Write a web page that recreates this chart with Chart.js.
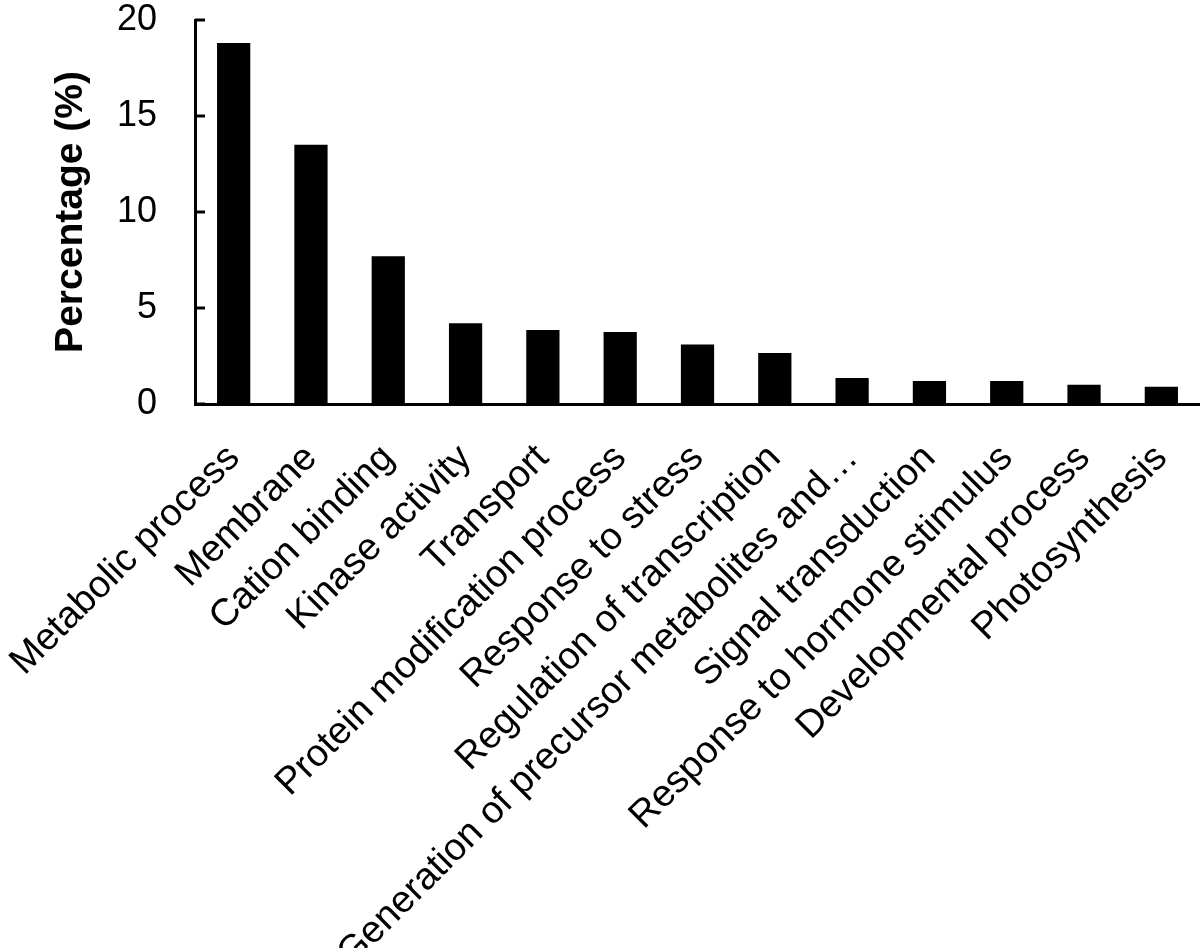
<!DOCTYPE html>
<html>
<head>
<meta charset="utf-8">
<script src="https://cdn.jsdelivr.net/npm/chart.js@4.4.0/dist/chart.umd.min.js"></script>
<style>
  body { margin: 0; background: #fff; }
  #goChart { display: block; }
</style>
</head>
<body>
<canvas id="goChart" width="1200" height="948"></canvas>
<script>
const categories = [
    'Metabolic process', 'Membrane', 'Cation binding', 'Kinase activity', 'Transport',
    'Protein modification process', 'Response to stress', 'Regulation of transcription',
    'Generation of precursor metabolites and\u2026', 'Signal transduction',
    'Response to hormone stimulus', 'Developmental process', 'Photosynthesis'
];
const percentages = [18.8, 13.5, 7.7, 4.2, 3.85, 3.75, 3.1, 2.65, 1.35, 1.2, 1.2, 1.0, 0.9];
const yTicks = [0, 5, 10, 15, 20];

const FONT = "'Liberation Sans', Arial, Helvetica, sans-serif";

// ticks on the y axis point into the plot, so draw them after the chart
const innerTicks = {
    id: 'innerTicks',
    afterDraw(chart) {
        const ctx = chart.ctx;
        const y = chart.scales.y;
        const left = chart.chartArea.left;
        ctx.save();
        ctx.strokeStyle = '#000';
        ctx.lineWidth = 3;
        yTicks.forEach(v => {
            const py = y.getPixelForValue(v);
            ctx.beginPath();
            ctx.moveTo(left, py);
            ctx.lineTo(left + 10, py);
            ctx.stroke();
        });
        ctx.restore();
    }
};

function renderChart() {
    const ctx = document.getElementById('goChart').getContext('2d');
    new Chart(ctx, {
        type: 'bar',
        data: {
            labels: categories,
            datasets: [{
                data: percentages,
                backgroundColor: '#000',
                borderWidth: 0,
                barPercentage: 0.43,
                categoryPercentage: 1
            }]
        },
        options: {
            responsive: false,
            animation: false,
            layout: { padding: { top: 20, right: 0, left: 0, bottom: 0 } },
            plugins: {
                legend: { display: false },
                tooltip: { enabled: false }
            },
            scales: {
                x: {
                    grid: { display: false, drawTicks: false },
                    border: { display: true, color: '#000', width: 3 },
                    ticks: {
                        color: '#000',
                        font: { family: FONT, size: 38 },
                        minRotation: 45,
                        maxRotation: 45,
                        autoSkip: false,
                        padding: 32
                    },
                    afterFit(scale) {
                        scale.height = 544;
                        scale.paddingLeft = 0;
                        scale.paddingRight = 0;
                    }
                },
                y: {
                    min: 0,
                    max: 20,
                    grid: { display: false, drawTicks: false },
                    border: { display: true, color: '#000', width: 3 },
                    ticks: {
                        stepSize: 5,
                        color: '#000',
                        font: { family: FONT, size: 36 },
                        padding: 38
                    },
                    title: {
                        display: true,
                        text: 'Percentage (%)',
                        color: '#000',
                        font: { family: FONT, size: 39, weight: 'bold' },
                        padding: { top: 48, bottom: 0 }
                    },
                    afterFit(scale) {
                        scale.width = 195;
                        scale.paddingTop = 0;
                        scale.paddingBottom = 0;
                    }
                }
            }
        },
        plugins: [innerTicks]
    });
}

window.onload = renderChart;
</script>
</body>
</html>
